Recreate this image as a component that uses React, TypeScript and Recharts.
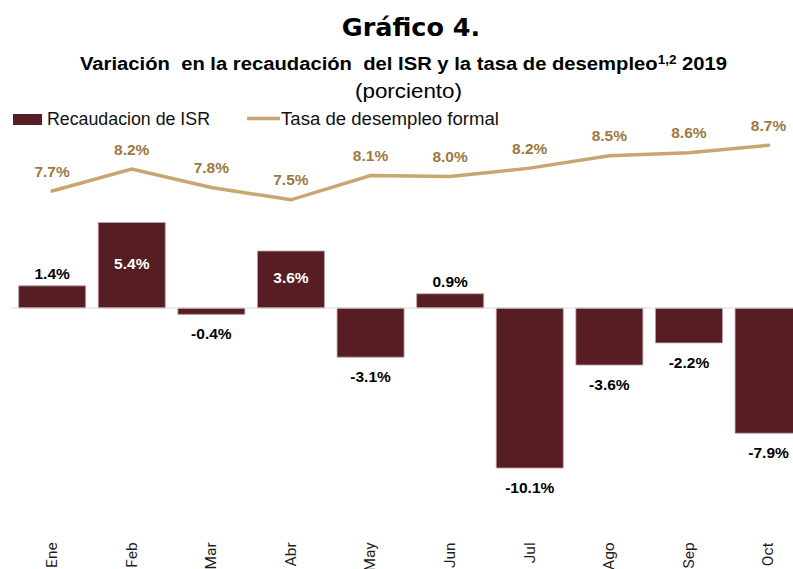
import React from 'react';
import { ComposedChart, Bar, Line, XAxis, YAxis, ReferenceLine, LabelList } from 'recharts';

const months = ['Ene', 'Feb', 'Mar', 'Abr', 'May', 'Jun', 'Jul', 'Ago', 'Sep', 'Oct'];
const isrValues = [1.4, 5.4, -0.4, 3.6, -3.1, 0.9, -10.1, -3.6, -2.2, -7.9];
const desempleoValues = [7.7, 8.2, 7.78, 7.5, 8.05, 8.03, 8.22, 8.5, 8.57, 8.74];
const desempleoLabels = ['7.7%', '8.2%', '7.8%', '7.5%', '8.1%', '8.0%', '8.2%', '8.5%', '8.6%', '8.7%'];
const insideLabelMonths = ['Feb', 'Abr'];

const data = months.map((m, i) => ({ month: m, isr: isrValues[i], tasa: desempleoValues[i] }));

const BAR_COLOR = '#561d23';
const LINE_COLOR = '#c9a56f';
const LINE_LABEL_COLOR = '#9d7942';
const LABEL_FONT = '"Liberation Sans", Arial, sans-serif';

const MonthTick = (props: any) => {
  const { x, y, payload } = props;
  const ty = y + 4.5;
  return (
    <text
      x={x}
      y={ty}
      transform={`rotate(-90, ${x}, ${ty})`}
      textAnchor="end"
      dominantBaseline="central"
      fontFamily="Roboto, sans-serif"
      fontSize={15.5}
      fill="#1e1e1e"
    >
      {payload.value}
    </text>
  );
};

const BarLabel = (props: any) => {
  const { x, y, width, height, value, index } = props;
  const top = Math.min(y, y + height);
  const bottom = Math.max(y, y + height);
  const cx = x + width / 2;
  const inside = insideLabelMonths.includes(months[index]);
  let cy: number;
  let fill = '#000';
  if (inside) {
    cy = (top + bottom) / 2 - 2;
    fill = '#ffffff';
  } else if (value >= 0) {
    cy = top - 12.5;
  } else {
    cy = bottom + 19.5;
  }
  return (
    <text x={cx} y={cy} textAnchor="middle" dominantBaseline="central" fontFamily={LABEL_FONT} fontWeight="bold" fontSize={15.5} fill={fill}>
      {`${Number(value).toFixed(1)}%`}
    </text>
  );
};

const LineLabel = (props: any) => {
  const { x, y, index } = props;
  return (
    <text x={x} y={y - 20} textAnchor="middle" dominantBaseline="central" fontFamily={LABEL_FONT} fontWeight="bold" fontSize={15.5} fill={LINE_LABEL_COLOR}>
      {desempleoLabels[index]}
    </text>
  );
};

export default function App() {
  return (
    <div style={{ position: 'absolute', left: 0, top: 0, width: 793, height: 569, overflow: 'hidden', background: '#fff' }}>
      <div style={{ position: 'absolute', left: 0, top: 0 }}>
        <ComposedChart
          width={820}
          height={569}
          data={data}
          margin={{ top: 133.8, right: 11.7, bottom: 9.2, left: 12.3 }}
          barCategoryGap="8%"
        >
          <XAxis dataKey="month" axisLine={false} tickLine={false} height={30} interval={0} tick={<MonthTick />} />
          <YAxis yAxisId="left" domain={[-14, 11]} allowDataOverflow hide />
          <YAxis yAxisId="right" orientation="right" domain={[0, 9]} allowDataOverflow hide />
          <ReferenceLine yAxisId="left" y={0} stroke="#d9d9d9" strokeWidth={1} />
          <Bar yAxisId="left" dataKey="isr" fill={BAR_COLOR} stroke="#bfa0a3" strokeWidth={0.8} isAnimationActive={false}>
            <LabelList dataKey="isr" content={<BarLabel />} />
          </Bar>
          <Line
            yAxisId="right"
            dataKey="tasa"
            type="linear"
            stroke={LINE_COLOR}
            strokeWidth={3.5}
            strokeLinecap="round"
            dot={false}
            activeDot={false}
            isAnimationActive={false}
          >
            <LabelList dataKey="tasa" content={<LineLabel />} />
          </Line>
        </ComposedChart>
      </div>
      <svg width={793} height={569} style={{ position: 'absolute', left: 0, top: 0, pointerEvents: 'none' }}>
        <text x={411} y={36} textAnchor="middle" fontFamily='"DejaVu Sans", sans-serif' fontWeight="bold" fontSize={25.5} fill="#000">
          Gráfico 4.
        </text>
        <text
          x={80}
          y={70}
          textLength={647}
          lengthAdjust="spacingAndGlyphs"
          fontFamily={LABEL_FONT}
          fontWeight="bold"
          fontSize={18}
          fill="#000"
          style={{ whiteSpace: 'pre' }}
        >
          {'Variación  en la recaudación  del ISR y la tasa de desempleo'}
          <tspan fontSize={12} dy={-6}>1,2</tspan>
          <tspan dy={6}>{' 2019'}</tspan>
        </text>
        <text x={355} y={98} textLength={107} lengthAdjust="spacingAndGlyphs" fontFamily={LABEL_FONT} fontSize={20} fill="#000">
          (porciento)
        </text>
        <rect x={13} y={114} width={29} height={11} fill={BAR_COLOR} />
        <text x={47} y={125} textLength={163} lengthAdjust="spacingAndGlyphs" fontFamily={LABEL_FONT} fontSize={17.5} fill="#111">
          Recaudacion de ISR
        </text>
        <line x1={247} y1={118.5} x2={280} y2={118.5} stroke={LINE_COLOR} strokeWidth={3.5} />
        <text x={281} y={125} textLength={218} lengthAdjust="spacingAndGlyphs" fontFamily={LABEL_FONT} fontSize={17.5} fill="#111">
          Tasa de desempleo formal
        </text>
      </svg>
    </div>
  );
}
